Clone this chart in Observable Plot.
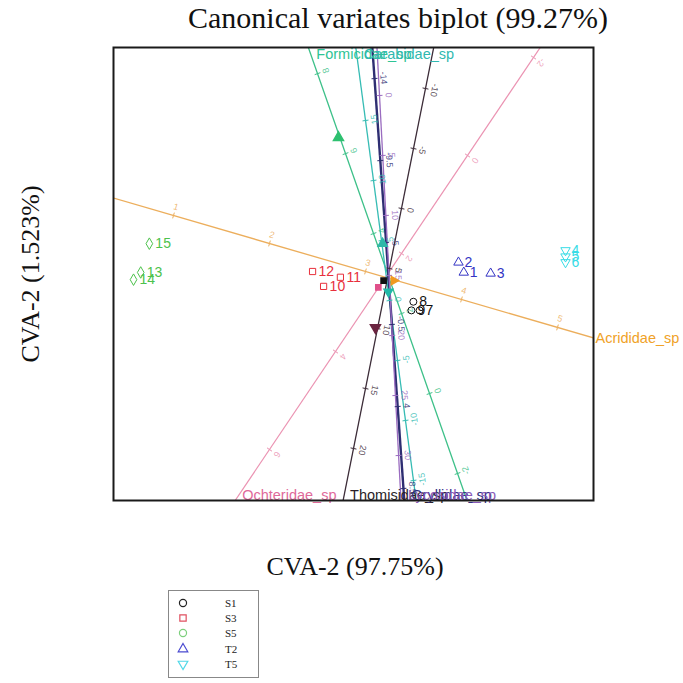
<!DOCTYPE html>
<html><head><meta charset="utf-8">
<script src="https://cdn.jsdelivr.net/npm/d3@7"></script>
<script src="https://cdn.jsdelivr.net/npm/@observablehq/plot@0.6"></script>
<style>
body{margin:0;background:#fff;width:683px;height:683px;position:relative;overflow:hidden;font-family:"Liberation Sans",Arial,sans-serif}
#title{position:absolute;top:0;left:113px;width:570px;text-align:center;font-family:"Liberation Serif",serif;font-size:30px;line-height:36px;color:#111;white-space:nowrap}
#chart{position:absolute;top:40px;left:0}
#xlabel{position:absolute;top:551px;left:155px;width:400px;text-align:center;font-family:"Liberation Serif",serif;font-size:26px;line-height:32px;color:#111}
#legend{position:absolute;left:168px;top:590px}
</style></head>
<body>
<div id="title">Canonical variates biplot (99.27%)</div>
<div id="chart"></div>
<div id="xlabel">CVA-2 (97.75%)</div>
<div id="legend"></div>
<script>
// ---- groups ----
const groups = ["S1","S3","S5","T2","T5"];
const groupColors = ["#111111","#e8303c","#4cc24c","#3434c4","#38dce6"];
const groupSymbols = ["circle","square","diamond","triangle","triangle"];
const groupRotate = [0,0,0,0,180];
const legendSymbols = ["circle","square","circle","triangle","triangle"];
const legendColors = ["#222222","#e05060","#7ccf7c","#4a4ad0","#50d8e8"];

// ---- sample points (CVA scores) ----
const pointIds   = ["7","8","9","10","11","12","13","14","15","1","2","3","4","5","6"];
const pointGroup = ["S1","S1","S1","S3","S3","S3","S5","S5","S5","T2","T2","T2","T5","T5","T5"];
const pointX = [0.71,0.58,0.54,-1.29,-0.94,-1.52,-5.10,-5.25,-4.92,1.63,1.52,2.19,3.75,3.75,3.75];
const pointY = [-0.56,-0.38,-0.56,-0.06,0.13,0.25,0.23,0.08,0.83,0.23,0.44,0.21,0.69,0.56,0.44];

// ---- filled markers ----
const markerX = [-0.04,-0.15,0.06,0.17,-0.98,-0.06,-0.21];
const markerY = [0.06,-0.08,-0.17,0.06,3.04,0.83,-0.92];
const markerSymbol = ["square","square","triangle","triangle","triangle","triangle","triangle"];
const markerRotate = [0,0,180,90,0,0,180];
const markerColor = ["#111111","#e0508a","#22b8a8","#f09a20","#2ec070","#2fb8a8","#6a2440"];
const markerSize = [4,4,5,4.5,6.5,5.5,6.5];

// ---- biplot axes ----
const axisNames  = ["Acrididae_sp","Ochteridae_sp","Thomisidae_sp","Formicidae_sp","Carabidae_sp","Gryllidae_sp","Lycosidae_sp"];
const axisColors = ["#ecae5c","#eb93b2","#3e2e3a","#3cc088","#36bcb4","#2e2e72","#9a6cc0"];
const axisLabelColors = ["#f0a228","#e06a9a","#2a1e28","#2ec494","#30b8b0","#303080","#8a5ab8"];
const axisWidths = [1.3,1.2,1.3,1.3,1.3,2.4,1.3];
const axisAnchorValue = [1,0,0,0,0,-14,0];
const axisAnchorX = [-4.417,1.708,0.333,0.917,0.083,-0.229,-0.125];
const axisAnchorY = [1.417,2.667,1.5625,-2.292,-0.354,4.27,3.917];
const axisStepX = [2.0,-0.6875,-0.05,-0.2917,-0.0333,0.0268,0.01325];
const axisStepY = [-0.583,-1.021,-0.25,0.833,0.25,-0.3796,-0.25];
const axisTicks = [[1,2,3,4,5],[-2,0,2,4,6],[-10,-5,0,5,10,15,20],[-2,0,2,4,6,8],[-15,-10,-5,0,5,10,15],[-14,-9.5,-5,-0.5,4,8.5],[0,5,10,15,20,25,30]];
const axisLabelSide = [1,1,1,-1,-1,1,1];

// ---- layout ----
const xDomain = [-5.667, 4.333];
const yDomain = [-4.521, 4.917];
const pxPerUnit = 48;

const axes = axisNames.map((name,i)=>({name, color:axisColors[i], lcolor:axisLabelColors[i], w:axisWidths[i],
  v0:axisAnchorValue[i], ax:axisAnchorX[i], ay:axisAnchorY[i], sx:axisStepX[i], sy:axisStepY[i],
  side:axisLabelSide[i], ticks:axisTicks[i]}));
const pos = (a,v)=>[a.ax+(v-a.v0)*a.sx, a.ay+(v-a.v0)*a.sy];

const lines = axes.map(a=>{const n=Math.hypot(a.sx,a.sy); const k=40/n; const p1=pos(a,a.v0-k), p2=pos(a,a.v0+k); return {x1:p1[0],y1:p1[1],x2:p2[0],y2:p2[1],color:a.color,w:a.w};});

const tickMarks=[], tickLabels=[];
axes.forEach(a=>{
  const n=Math.hypot(a.sx,a.sy), ux=a.sx/n, uy=a.sy/n;
  const nx=-uy, ny=ux;
  const half=3/pxPerUnit, off=9/pxPerUnit*a.side;
  const ang=Math.atan2(-a.sy,a.sx)*180/Math.PI;
  a.ticks.forEach(v=>{
    const [x,y]=pos(a,v);
    tickMarks.push({x1:x-nx*half,y1:y-ny*half,x2:x+nx*half,y2:y+ny*half,color:a.color});
    tickLabels.push({x:x+nx*off,y:y+ny*off,text:String(v),color:a.color,rot:ang});
  });
});

function exitPoint(a){
  const c=[];
  if(a.sx>0)c.push([(xDomain[1]-a.ax)/a.sx,"right"]);
  if(a.sx<0)c.push([(xDomain[0]-a.ax)/a.sx,"left"]);
  if(a.sy>0)c.push([(yDomain[1]-a.ay)/a.sy,"top"]);
  if(a.sy<0)c.push([(yDomain[0]-a.ay)/a.sy,"bottom"]);
  c.sort((p,q)=>p[0]-q[0]);
  const t=c[0][0];
  return {x:a.ax+t*a.sx,y:a.ay+t*a.sy,side:c[0][1],name:a.name,color:a.lcolor};
}
const axisLabels = axes.map(exitPoint);

const points = pointIds.map((id,i)=>{const g=groups.indexOf(pointGroup[i]); return {id,x:pointX[i],y:pointY[i],color:groupColors[g],symbol:groupSymbols[g],rot:groupRotate[g]};});
const markers = markerX.map((x,i)=>({x,y:markerY[i],symbol:markerSymbol[i],rot:markerRotate[i],color:markerColor[i],r:markerSize[i]}));

const nameFont = 14.5;
const plot = Plot.plot({
  width:683, height:475,
  marginLeft:113, marginRight:90, marginTop:7, marginBottom:15,
  x:{domain:xDomain, axis:null},
  y:{domain:yDomain, axis:null},
  style:{fontFamily:"Liberation Sans, Arial, sans-serif", background:"white", overflow:"visible"},
  marks:[
    Plot.link(lines,{x1:"x1",y1:"y1",x2:"x2",y2:"y2",stroke:d=>d.color,strokeWidth:d=>d.w,clip:true}),
    Plot.link(tickMarks,{x1:"x1",y1:"y1",x2:"x2",y2:"y2",stroke:d=>d.color,strokeWidth:1,clip:true}),
    Plot.text(tickLabels,{x:"x",y:"y",text:"text",fill:d=>d.color,rotate:d=>d.rot,fontSize:9,fillOpacity:0.85,clip:true}),
    Plot.dot(markers,{x:"x",y:"y",symbol:d=>d.symbol,rotate:d=>d.rot,fill:d=>d.color,stroke:d=>d.color,r:d=>d.r}),
    Plot.dot(points,{x:"x",y:"y",symbol:d=>d.symbol,rotate:d=>d.rot,stroke:d=>d.color,fill:"none",r:3.5,strokeWidth:1}),
    Plot.text(points,{x:"x",y:"y",text:"id",fill:d=>d.color,dx:6,textAnchor:"start",fontSize:14}),
    Plot.text(axisLabels.filter(d=>d.side==="top"),{x:"x",y:"y",text:"name",fill:d=>d.color,dx:8,dy:1,lineAnchor:"top",textAnchor:"start",fontSize:nameFont}),
    Plot.text(axisLabels.filter(d=>d.side==="bottom"),{x:"x",y:"y",text:"name",fill:d=>d.color,dx:7,dy:-1,lineAnchor:"bottom",textAnchor:"start",fontSize:nameFont}),
    Plot.text(axisLabels.filter(d=>d.side==="right"),{x:"x",y:"y",text:"name",fill:d=>d.color,dx:2,lineAnchor:"middle",textAnchor:"start",fontSize:nameFont}),
    Plot.frame({stroke:"#1a1a1a",strokeWidth:2}),
    Plot.text(["CVA-2 (1.523%)"],{frameAnchor:"left",text:d=>d,dx:-83,rotate:-90,textAnchor:"middle",lineAnchor:"middle",fontSize:26,fontFamily:"Liberation Serif, serif",fill:"#111"})
  ]
});
document.getElementById("chart").appendChild(plot);

// ---- legend ----
const lg = d3.select("#legend").append("svg").attr("width",92).attr("height",90);
lg.append("rect").attr("x",0.5).attr("y",0.5).attr("width",90).attr("height",87).attr("fill","white").attr("stroke","#888");
const symMap = {circle:d3.symbolCircle, square:d3.symbolSquare, triangle:d3.symbolTriangle, diamond:d3.symbolDiamond};
const rowY = [13,28,43,59,74];
groups.forEach((g,i)=>{
  lg.append("path").attr("d",d3.symbol(symMap[legendSymbols[i]],40)())
    .attr("transform",`translate(15,${rowY[i]}) rotate(${groupRotate[i]})`)
    .attr("fill","none").attr("stroke",legendColors[i]).attr("stroke-width",1.2);
  lg.append("text").attr("x",57).attr("y",rowY[i]).attr("dy","0.35em")
    .attr("font-family","Liberation Serif, serif").attr("font-size",11).attr("fill","#222").text(g);
});
</script>
</body></html>
